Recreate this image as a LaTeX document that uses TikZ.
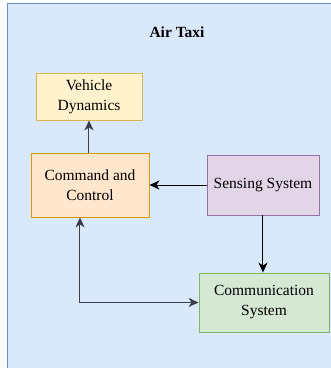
\documentclass[tikz,border=0pt]{standalone}
\usepackage{fontspec}
\setmainfont{Liberation Serif}
\usetikzlibrary{arrows.meta}
\definecolor{frameFill}{HTML}{DAE8FC}\definecolor{frameLine}{HTML}{6C8EBF}
\definecolor{yelFill}{HTML}{FFF2CC}\definecolor{yelLine}{HTML}{D6B656}
\definecolor{oraFill}{HTML}{FFE6CC}\definecolor{oraLine}{HTML}{D79B00}
\definecolor{purFill}{HTML}{E1D5E7}\definecolor{purLine}{HTML}{9673A6}
\definecolor{grnFill}{HTML}{D5E8D4}\definecolor{grnLine}{HTML}{82B366}
\definecolor{wireGray}{HTML}{3A3F47}
\begin{document}
\begin{tikzpicture}[x=1pt,y=-1pt,
  block/.style={draw, line width=0.9pt, align=center, inner sep=0pt,
    font=\fontsize{15.5}{20}\selectfont},
  wire/.style={line width=1pt, -{Stealth[length=10pt,width=9pt,inset=3pt]}},
  wire2/.style={line width=1pt, {Stealth[length=10pt,width=9pt,inset=3pt]}-{Stealth[length=10pt,width=9pt,inset=3pt]}}]
\useasboundingbox (0,0) rectangle (331,368);
\begin{scope}
\clip (0,0) rectangle (331,368);
\draw[fill=frameFill, draw=frameLine, line width=0.9pt] (7,3) rectangle (345,380);
\end{scope}
\node[font=\fontsize{15.5}{19}\selectfont\bfseries] (title) at (177,32) {Air Taxi};
\node[block, fill=yelFill, draw=yelLine, minimum width=106pt, minimum height=47pt] (vd) at (89,96.5) {Vehicle\\Dynamics};
\node[block, fill=oraFill, draw=oraLine, minimum width=118pt, minimum height=64pt] (cc) at (90,185) {Command and\\Control};
\node[block, fill=purFill, draw=purLine, minimum width=112pt, minimum height=60pt] (ss) at (263,185) {Sensing System};
\node[block, fill=grnFill, draw=grnLine, minimum width=130pt, minimum height=59pt] (cs) at (264,302.5) {Communication\\System};
\coordinate (bend) at (80,302.5);
\draw[wire, color=wireGray] (cc.north -| vd.south) -- (vd.south);
\draw[wire] (ss.west) -- (cc.east);
\draw[wire] (ss.south) -- (ss.south |- cs.north);
\draw[wire2, color=wireGray] (bend |- cc.south) -- (bend) -- (cs.west);
\end{tikzpicture}
\end{document}
